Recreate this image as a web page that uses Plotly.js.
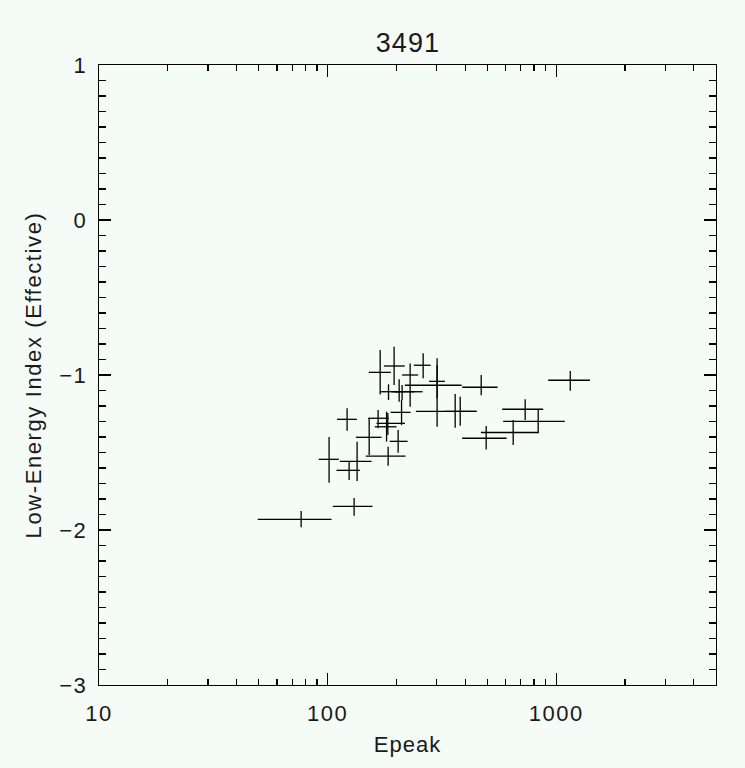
<!DOCTYPE html>
<html>
<head>
<meta charset="utf-8">
<script src="https://cdn.plot.ly/plotly-3.0.1.min.js"></script>
<style>
html,body{margin:0;padding:0;background:#f5fbf7;}
#chart .xtick text, #chart .ytick text { letter-spacing: 1.5px; }
#chart .ytitle { letter-spacing: 1.6px; }
#chart .xtitle { letter-spacing: 1px; }
#chart .gtitle { letter-spacing: 1px; }
</style>
</head>
<body>
<div id="chart" style="width:745px;height:768px;"></div>
<script>
// Epeak centre and lower/upper bounds
const epeak   = [76.6, 130.6, 101.5, 134.6, 124.2, 121.7, 152.0, 184.0, 203.5, 166.3, 181.1, 183.4, 169.8, 195.4, 229.6, 261.8, 184.7, 205.6, 211.8, 210.6, 301.3, 301.3, 361.4, 380.2, 469.7, 731.6, 834.0, 648.3, 494.0, 1152];
const epeakLo = [49.5, 105.4, 91.5, 113.1, 109.4, 110.0, 132.9, 146.9, 187.1, 150.4, 163.7, 160.9, 151.5, 176.2, 211.8, 238.3, 169.8, 190.4, 196.8, 188.5, 278.0, 217.8, 243.3, 325.9, 387.8, 580.3, 586.1, 468.3, 387.8, 922.6];
const epeakHi = [104.0, 157.2, 111.9, 155.6, 138.4, 134.3, 172.2, 219.3, 223.8, 185.3, 217.8, 200.3, 189.1, 217.6, 248.9, 282.2, 207.0, 260.2, 240.4, 230.6, 325.9, 385.5, 448.4, 448.4, 554.0, 877.0, 1091, 834.0, 606.8, 1404];
// Low-energy index centre and lower/upper bounds
const alpha   = [-1.931, -1.847, -1.544, -1.557, -1.615, -1.286, -1.402, -1.523, -1.428, -1.279, -1.312, -1.334, -0.983, -0.942, -1.000, -0.937, -1.108, -1.108, -1.108, -1.241, -1.041, -1.066, -1.235, -1.235, -1.079, -1.221, -1.299, -1.371, -1.408, -1.034];
const alphaLo = [-1.983, -1.908, -1.695, -1.684, -1.677, -1.359, -1.516, -1.585, -1.501, -1.344, -1.430, -1.387, -1.125, -1.065, -1.205, -1.021, -1.161, -1.172, -1.161, -1.323, -1.150, -1.334, -1.340, -1.327, -1.131, -1.290, -1.376, -1.452, -1.480, -1.102];
const alphaHi = [-1.877, -1.794, -1.400, -1.430, -1.559, -1.215, -1.279, -1.463, -1.355, -1.226, -1.237, -1.245, -0.839, -0.817, -0.925, -0.860, -1.060, -1.028, -1.065, -1.161, -0.935, -0.892, -1.123, -1.140, -1.000, -1.157, -1.221, -1.290, -1.329, -0.974];

const xMajor = [10, 100, 1000];
const xMajorText = ['10', '100', '1000'];
const xMinor = [20,30,40,50,60,70,80,90,200,300,400,500,600,700,800,900,2000,3000,4000];

const titleText = '3491';
const xTitle = 'Epeak';
const yTitle = 'Low-Energy Index (Effective)';

const bg = '#f5fbf7';
const ink = '#000000';
const txt = '#1a1a1a';
const lw = 1.3;

const trace = {
  x: epeak, y: alpha, type: 'scatter', mode: 'markers',
  marker: {size: 1, color: 'rgba(0,0,0,0)'},
  error_x: {type: 'data', symmetric: false,
    array: epeak.map((v, i) => epeakHi[i] - v),
    arrayminus: epeak.map((v, i) => v - epeakLo[i]),
    width: 0, thickness: lw, color: ink},
  error_y: {type: 'data', symmetric: false,
    array: alpha.map((v, i) => alphaHi[i] - v),
    arrayminus: alpha.map((v, i) => v - alphaLo[i]),
    width: 0, thickness: lw, color: ink},
  hoverinfo: 'skip'
};

const fontFam = 'Liberation Sans, Arial, sans-serif';

const layout = {
  width: 745, height: 768,
  paper_bgcolor: bg, plot_bgcolor: bg,
  margin: {l: 99, r: 29, t: 65, b: 83, pad: 0},
  showlegend: false,
  title: {text: titleText, x: 0.5475, xanchor: 'center', y: 0.945, yanchor: 'middle',
          font: {family: fontFam, size: 27, color: txt}},
  xaxis: {
    type: 'log', range: [1, Math.log10(5000)], autorange: false,
    tickmode: 'array', tickvals: xMajor, ticktext: xMajorText,
    ticks: 'inside', ticklen: 12, tickwidth: lw, tickcolor: ink,
    minor: {tickmode: 'array', tickvals: xMinor, ticks: 'inside', ticklen: 6, tickwidth: lw, tickcolor: ink, showgrid: false},
    showline: true, linecolor: ink, linewidth: lw, mirror: 'allticks',
    showgrid: false, zeroline: false,
    tickfont: {family: fontFam, size: 22, color: txt},
    ticklabelstandoff: 8,
    title: {text: xTitle, font: {family: fontFam, size: 22, color: txt}, standoff: 12}
  },
  yaxis: {
    range: [-3, 1], autorange: false,
    tickmode: 'linear', tick0: -3, dtick: 1,
    ticks: 'inside', ticklen: 12, tickwidth: lw, tickcolor: ink,
    minor: {tickmode: 'linear', tick0: -3, dtick: 0.1, ticks: 'inside', ticklen: 7, tickwidth: lw, tickcolor: ink, showgrid: false},
    showline: true, linecolor: ink, linewidth: lw, mirror: 'allticks',
    showgrid: false, zeroline: false,
    tickfont: {family: fontFam, size: 22, color: txt},
    ticklabelstandoff: 6,
    title: {text: yTitle, font: {family: fontFam, size: 22, color: txt}, standoff: 14}
  }
};

Plotly.newPlot('chart', [trace], layout, {staticPlot: true, displayModeBar: false});
</script>
</body>
</html>
